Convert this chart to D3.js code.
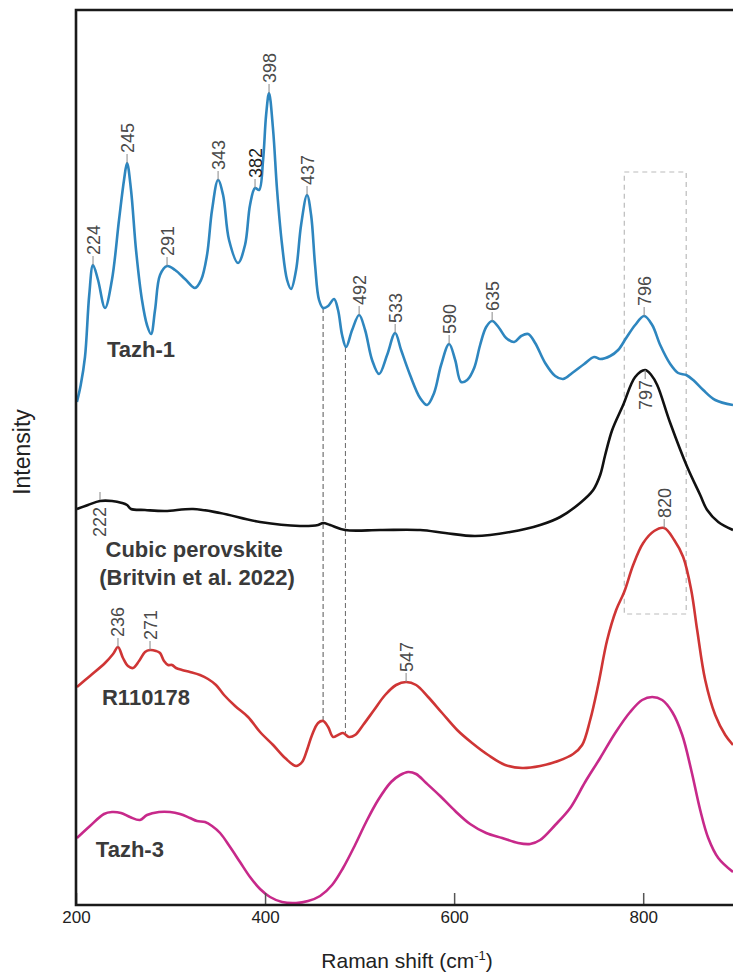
<!DOCTYPE html>
<html>
<head>
<meta charset="utf-8">
<script src="https://cdnjs.cloudflare.com/ajax/libs/d3/7.8.5/d3.min.js"></script>
<style>
  body { margin: 0; background: #fff; }
  svg { display: block; font-family: "Liberation Sans", Arial, sans-serif; }
</style>
</head>
<body>
<div id="chart"></div>
<script>
// Raman spectra, stacked with offsets (arbitrary intensity units)
const tazh1Shift = [201,205,209.5,214,218,223.3,230.7,238,245.5,250.8,254,258.2,263.5,269.8,275.1,279.4,283.6,288.9,296.3,304.8,315.3,325.9,332.3,338.6,343.9,350.3,355.6,361.9,371.4,378.8,384.1,389.4,393.7,397.9,401.1,404.2,408.5,412.7,418,423.3,427.5,432.8,438.1,444.4,448.7,452.9,457.1,461.4,466.7,473,477.2,481.5,485.7,492.1,499.5,505.8,513.2,520.6,529.1,537.6,543.9,553.4,564,571.4,578.8,586.2,594.7,601.1,607.4,613.8,621.2,627.5,633.9,640.2,647.6,655,663.5,670.9,678.3,685.7,696.3,706.9,715.3,724.9,737.6,748.1,754.5,765.1,773.5,782,791.5,801,809.5,818,828.6,837,845.5,852.9,863.5,876.2,895]
const tazh1Int = [503,520,548,610,640,625,597,625,685,725,742,715,655,605,580,571,595,630,639,635,626,617,625,650,695,725,710,665,642,660,700,717,715,745,790,812,775,715,660,625,616,635,680,710,690,640,605,597,599,606,595,570,558,575,590,575,545,531,550,572,555,530,507,500,512,540,561,545,523,525,537,560,578,584,577,567,563,569,571,562,542,529,526,532,541,548,546,549,555,567,580,589,580,560,541,532,530,525,515,505,500]

const cubicShift = [201,212.7,225.4,238.1,248.7,254,258.2,273,294.2,323.8,352.4,394.7,437,456.1,461.4,468.8,484.7,521.7,564,590.5,622.2,659.3,691,712.2,733.3,747.1,754.5,759.8,767.2,778.8,791.5,802.1,808.5,814.8,828.6,846.6,860.3,867.7,879.4,895]
const cubicInt = [396,400,404,404,402,400,396,395,394,396,392,383,379,380,382,380,375,375,375,372,369,373,380,388,402,415,430,450,475,500,528,535,530,520,482,438,410,395,383,375]

const rruffShift = [201,214.8,230.7,239.2,244.4,249.7,255,260.3,266.7,273,278.3,284.7,288.9,293.1,297.4,301.6,305.8,312.2,320.6,331.2,339.7,348.1,356.6,368.3,382,394.7,408.5,421.2,432.8,439.2,444.4,449.7,456.1,461.4,466.7,472,477.2,482.5,488.9,495.2,503.7,515.3,527,538.6,549.2,559.8,572.5,587.3,603.2,619,636,654,672,691,710,725.9,735.4,743.9,752.4,761.9,771.4,779.9,789.4,800,811.6,822.2,832.8,842.3,850.8,857.1,865.6,876.2,886.8,895]
const rruffInt = [218,229,242,251,258,247,239,237,244,253,255,254,252,244,240,240,237,235,233,230,226,220,210,199,188,173,160,147,139,143,155,170,182,184,178,168,170,172,168,170,180,195,210,220,223,220,208,192,175,162,150,140,137,139,144,151,160,185,220,265,295,313,340,362,374,377,365,348,315,275,225,190,170,160]

const tazh3Shift = [201,214.8,229.6,238.1,247.6,257.1,267.7,275.1,287.8,299.5,310,320.6,328,336.5,343.9,352.4,363,373.5,384.1,394.7,405.3,418,432.8,445.5,458.2,470.9,482.5,495.2,506.9,519.6,533.3,542.9,551.3,559.8,570.4,585.2,601.1,616.9,633.9,650.8,667.7,680.4,691,706.9,722.8,738.6,754.5,770.4,786.2,798.9,809.5,820.1,830.7,841.3,850.8,860.3,868.8,879.4,895]
const tazh3Int = [67,79,91,93,92,88,85,90,93,93,91,87,84,83,79,72,58,43,28,16,8,3,2,4,9,20,37,60,83,105,123,130,133,131,122,109,94,81,72,67,62,61,65,80,97,123,147,172,193,205,208,205,193,170,135,95,67,47,33]

// peak annotations: label, shift, intensity, side
const peakText = ["224","245","291","343","382","398","437","492","533","590","635","796","797","222","236","271","547","820"]
const peakShift = [218,254,296.3,350.3,389.4,404.2,444.4,499.5,537.6,594.7,640.2,801,802.1,225.4,244.4,278.3,549.2,822.2]
const peakInt = [640,742,639,725,717,812,710,590,572,561,584,589,535,404,258,255,223,377]
const peakSide = ["up","up","up","up","up","up","up","up","up","up","up","up","down","below","up","up","up","up"]

const xTicks = [200, 400, 600, 800]

const W = 733, H = 975
const svg = d3.select("#chart").append("svg")
    .attr("width", W)
    .attr("height", H)

const x = d3.scaleLinear().domain([200, 895]).range([76, 733])
const y = d3.scaleLinear().domain([0, 895]).range([905, 10])

// guides
const guides = svg.append("g")
guides.append("line")
    .attr("x1", x(461.4)).attr("x2", x(461.4))
    .attr("y1", y(597)).attr("y2", y(184))
    .attr("stroke", "#555").attr("stroke-width", 1).attr("stroke-dasharray", "5,3")
guides.append("line")
    .attr("x1", x(485)).attr("x2", x(485))
    .attr("y1", y(558)).attr("y2", y(172))
    .attr("stroke", "#666").attr("stroke-width", 1).attr("stroke-dasharray", "5,3")
guides.append("rect")
    .attr("x", x(780)).attr("y", y(733))
    .attr("width", x(845.5) - x(780))
    .attr("height", y(291) - y(733))
    .attr("fill", "none")
    .attr("stroke", "#bbb").attr("stroke-width", 1.2).attr("stroke-dasharray", "5,4")

// spectra
const line = d3.line()
    .x(d => x(d[0]))
    .y(d => y(d[1]))
    .curve(d3.curveCatmullRom.alpha(0.5))

const series = [
    { s: tazh1Shift, v: tazh1Int, color: "#2e86bf" },
    { s: cubicShift, v: cubicInt, color: "#111111" },
    { s: rruffShift, v: rruffInt, color: "#cf3535" },
    { s: tazh3Shift, v: tazh3Int, color: "#c7298a" },
]
series.forEach(sr => {
    svg.append("path")
        .datum(d3.zip(sr.s, sr.v))
        .attr("d", line)
        .attr("fill", "none")
        .attr("stroke", sr.color)
        .attr("stroke-width", 2.6)
        .attr("stroke-linejoin", "round")
})

// peak labels
const labels = svg.append("g")
peakText.forEach((t, i) => {
    const px = x(peakShift[i])
    const py = y(peakInt[i])
    const side = peakSide[i]
    let t1, t2, ty, anchor
    if (side === "up") { t1 = py; t2 = py - 9; ty = py - 10; anchor = "start" }
    else if (side === "down") { t1 = py; t2 = py + 9; ty = py + 10; anchor = "end" }
    else { t1 = py - 1; t2 = py - 9; ty = py + 6; anchor = "end" }
    labels.append("line")
        .attr("x1", px).attr("x2", px)
        .attr("y1", t1).attr("y2", t2)
        .attr("stroke", "#888").attr("stroke-width", 1)
    labels.append("text")
        .attr("transform", `translate(${px},${ty}) rotate(-90)`)
        .attr("dy", "0.36em")
        .attr("text-anchor", anchor)
        .attr("fill", t === "382" ? "#222" : "#4a4a4a")
        .style("font-size", "18px")
        .text(t)
})

// sample names
const names = [
    { t: "Tazh-1", s: 232.8, v: 548, a: "start" },
    { t: "Cubic perovskite", s: 325, v: 348, a: "middle" },
    { t: "(Britvin et al. 2022)", s: 328, v: 320, a: "middle" },
    { t: "R110178", s: 227.5, v: 200, a: "start" },
    { t: "Tazh-3", s: 221, v: 48, a: "start" },
]
names.forEach(n => {
    svg.append("text")
        .attr("x", x(n.s))
        .attr("y", y(n.v))
        .attr("text-anchor", n.a)
        .attr("fill", "#3a3a3a")
        .style("font-size", "22px")
        .style("font-weight", "bold")
        .text(n.t)
})

// axes
const xAxis = svg.append("g")
    .attr("transform", "translate(0,905)")
    .call(d3.axisBottom(x).tickValues(xTicks).tickSize(-12).tickPadding(6).tickFormat(d3.format("d")))
xAxis.select(".domain").remove()
xAxis.selectAll(".tick line").attr("stroke", "#555").attr("stroke-width", 1.5)
xAxis.selectAll(".tick text")
    .attr("fill", "#222")
    .style("font-size", "17px")
    .style("font-family", "'Liberation Sans', Arial, sans-serif")

svg.append("path")
    .attr("d", `M733,10 H76 V905 H733`)
    .attr("fill", "none")
    .attr("stroke", "#1a1a1a")
    .attr("stroke-width", 2.6)

const xl = svg.append("text")
    .attr("x", 407)
    .attr("y", 968)
    .attr("text-anchor", "middle")
    .attr("fill", "#222")
    .style("font-size", "21px")
xl.append("tspan").text("Raman shift (cm")
xl.append("tspan").attr("dy", -8).style("font-size", "13px").text("-1")
xl.append("tspan").attr("dy", 8).text(")")

svg.append("text")
    .attr("transform", "translate(30,452) rotate(-90)")
    .attr("text-anchor", "middle")
    .attr("fill", "#222")
    .style("font-size", "23px")
    .text("Intensity")
</script>
</body>
</html>
